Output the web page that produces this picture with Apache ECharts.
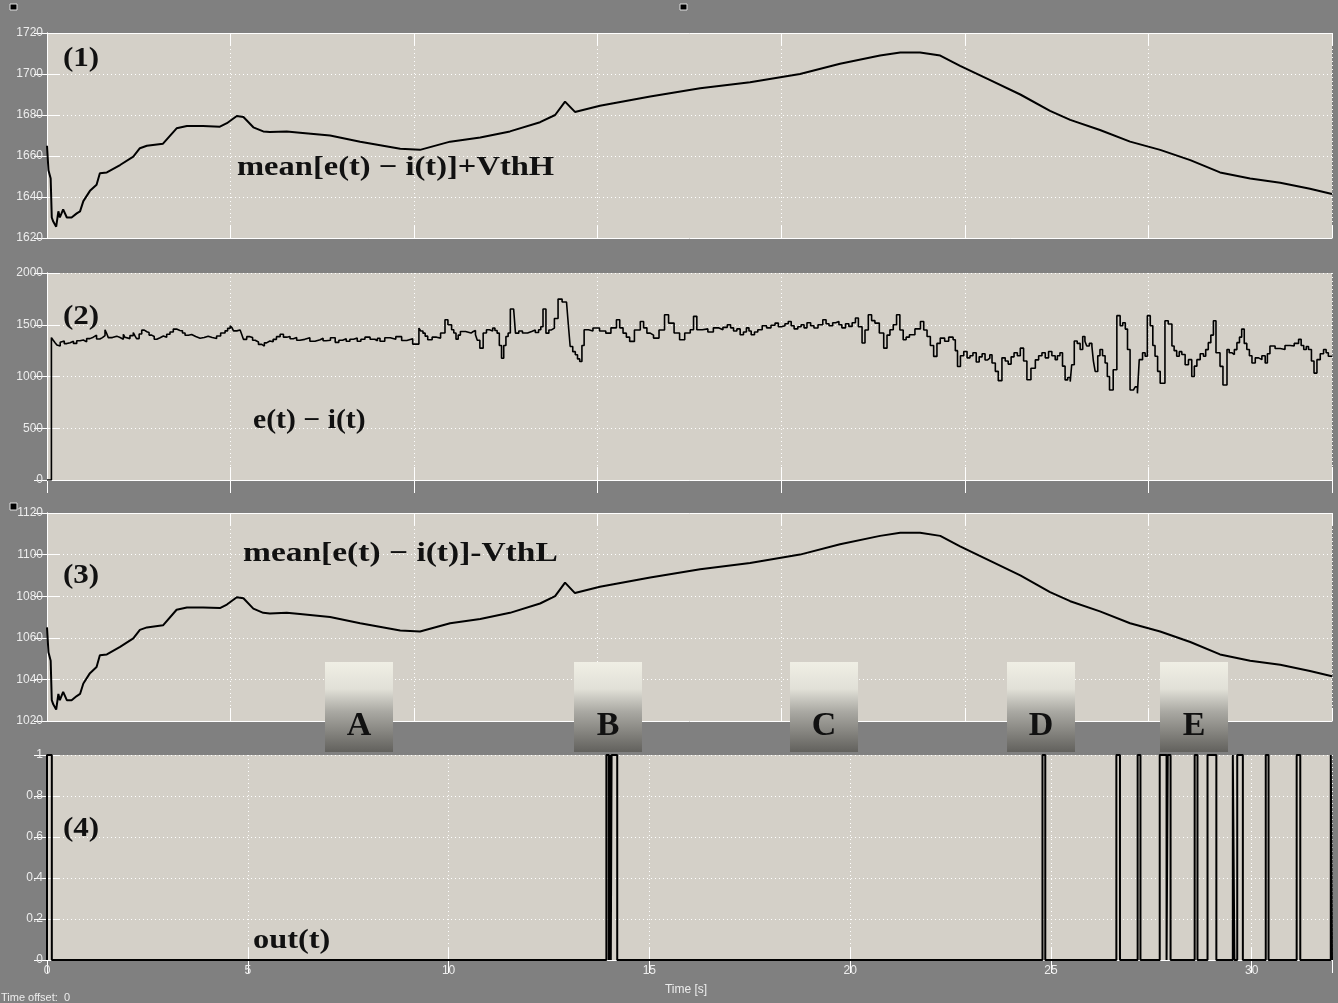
<!DOCTYPE html>
<html>
<head>
<meta charset="utf-8">
<script src="https://cdn.jsdelivr.net/npm/echarts@6/dist/echarts.min.js"></script>
<style>
  html, body { margin: 0; padding: 0; background: #808080; }
  #chart { width: 1338px; height: 1003px; }
</style>
</head>
<body>
<div id="chart"></div>
<script>
// ---- data -------------------------------------------------------------
// running mean of e(t) - i(t): [time, value]
const meanDiff = [
  [0,1365],[0.04,1353],[0.10,1349],[0.13,1330],[0.17,1328],[0.25,1325.5],[0.31,1333],[0.35,1330],
  [0.44,1334],[0.54,1330],[0.67,1330],[0.81,1332],[0.90,1333],[0.99,1338],[1.17,1343],[1.35,1346],
  [1.44,1351.6],[1.63,1352],[1.99,1355.6],[2.35,1359.7],[2.53,1363.8],[2.72,1365],[3.16,1366],
  [3.53,1373.5],[3.81,1374.6],[4.25,1374.6],[4.71,1374.3],[4.90,1376],[5.17,1379.5],[5.35,1379],
  [5.62,1374],[5.89,1372],[6.07,1371.7],[6.53,1372],[6.89,1371.4],[7.71,1370],[8.53,1367],
  [9.62,1363.5],[10.16,1363],[10.98,1367],[11.80,1369],[12.61,1372],[13.43,1376.5],[13.84,1380],
  [14.11,1386.5],[14.38,1381.5],[15.06,1384.5],[16.43,1389],[17.79,1393],[19.15,1396],[20.51,1400],
  [21.60,1405],[22.69,1409],[23.24,1410.5],[23.78,1410.5],[24.33,1409],[24.87,1404],[25.69,1397],
  [26.51,1390],[27.32,1382],[27.87,1377.6],[28.68,1372.7],[29.50,1367],[30.32,1363],[31.14,1358],
  [31.95,1352],[32.77,1349],[33.59,1347],[34.40,1344],[35.0,1341.5]
];
const VthH = 300;   // upper threshold offset
const VthL = 300;   // lower threshold offset

// e(t) - i(t): [time, value]
const eiDiff = [
  [0,0],[0.12,1376],[0.17,1350],[0.22,1327],[0.27,1305],[0.31,1294],[0.36,1330],[0.40,1343],[0.47,1318],
  [0.54,1327],[0.63,1340],[0.72,1320],[0.81,1345],[0.90,1353],[0.99,1335],[1.08,1366],[1.17,1380],
  [1.26,1399],[1.35,1362],[1.44,1376],[1.51,1395],[1.58,1451],[1.62,1420],[1.67,1376],[1.78,1390],
  [1.90,1376],[1.99,1360],[2.08,1408],[2.12,1380],[2.17,1366],[2.26,1395],[2.35,1425],[2.40,1390],
  [2.44,1366],[2.51,1410],[2.58,1448],[2.65,1432],[2.72,1425],[2.78,1400],[2.85,1386],[2.92,1360],
  [2.99,1343],[3.04,1375],[3.08,1392],[3.17,1380],[3.26,1408],[3.35,1430],[3.44,1458],[3.53,1445],
  [3.62,1441],[3.69,1420],[3.76,1399],[3.85,1405],[3.94,1386],[4.05,1370],[4.17,1376],[4.28,1390],
  [4.39,1376],[4.50,1368],[4.62,1392],[4.73,1420],[4.85,1441],[4.92,1465],[4.99,1490],[5.04,1470],
  [5.08,1441],[5.17,1450],[5.26,1458],[5.30,1410],[5.35,1359],[5.44,1385],[5.53,1376],[5.60,1350],
  [5.67,1333],[5.76,1310],[5.85,1294],[5.92,1325],[5.98,1343],[6.07,1335],[6.16,1359],[6.25,1385],
  [6.35,1408],[6.44,1380],[6.53,1386],[6.62,1365],[6.71,1376],[6.80,1350],[6.89,1359],[7.02,1375],
  [7.16,1340],[7.30,1355],[7.44,1370],[7.52,1345],[7.60,1350],[7.72,1375],[7.85,1330],[7.95,1350],
  [8.05,1365],[8.15,1340],[8.25,1360],[8.35,1372],[8.45,1340],[8.55,1360],[8.66,1380],[8.80,1360],
  [8.93,1345],[9.00,1370],[9.07,1340],[9.20,1375],[9.35,1360],[9.50,1385],[9.66,1348],[9.80,1365],
  [9.96,1313],[10.13,1468],[10.18,1440],[10.24,1419],[10.30,1390],[10.37,1355],[10.49,1380],
  [10.61,1371],[10.72,1420],[10.84,1548],[10.92,1500],[11.02,1452],[11.08,1420],[11.14,1361],
  [11.20,1400],[11.26,1435],[11.40,1420],[11.55,1435],[11.61,1445],[11.67,1403],[11.72,1350],
  [11.79,1274],[11.88,1420],[11.97,1452],[12.05,1440],[12.14,1468],[12.20,1445],[12.26,1419],
  [12.32,1300],[12.38,1177],[12.44,1300],[12.50,1387],[12.56,1420],[12.62,1652],[12.71,1645],
  [12.76,1419],[12.85,1440],[12.95,1420],[13.09,1435],[13.20,1450],[13.30,1425],[13.39,1452],
  [13.45,1480],[13.51,1652],[13.59,1419],[13.67,1450],[13.74,1468],[13.82,1560],[13.92,1748],
  [14.03,1720],[14.15,1710],[14.20,1500],[14.25,1290],[14.32,1240],[14.39,1210],[14.45,1170],
  [14.51,1145],[14.57,1300],[14.63,1452],[14.75,1440],[14.87,1468],[15.05,1440],[15.22,1419],
  [15.36,1470],[15.51,1548],[15.60,1470],[15.69,1419],[15.78,1380],[15.87,1339],[16.0,1450],
  [16.16,1532],[16.25,1470],[16.34,1419],[16.43,1400],[16.52,1371],[16.67,1450],[16.82,1597],
  [16.93,1516],[17.08,1420],[17.23,1355],[17.37,1420],[17.52,1452],[17.61,1581],[17.70,1452],
  [17.85,1460],[18.0,1430],[18.15,1470],[18.29,1452],[18.41,1475],[18.53,1500],[18.62,1470],
  [18.70,1440],[18.79,1460],[18.88,1403],[18.97,1430],[19.05,1470],[19.12,1440],[19.18,1403],
  [19.27,1430],[19.36,1452],[19.48,1490],[19.60,1470],[19.72,1495],[19.83,1516],[19.92,1480],
  [20.0,1490],[20.10,1510],[20.19,1532],[20.27,1490],[20.35,1460],[20.45,1480],[20.54,1500],
  [20.62,1470],[20.70,1520],[20.80,1490],[20.89,1468],[21.0,1500],[21.13,1548],[21.22,1510],
  [21.30,1490],[21.40,1520],[21.48,1532],[21.57,1500],[21.65,1470],[21.75,1510],[21.84,1484],
  [21.93,1520],[22.02,1565],[22.10,1480],[22.20,1323],[22.28,1450],[22.37,1597],[22.46,1540],
  [22.55,1516],[22.67,1420],[22.79,1274],[22.88,1400],[22.96,1452],[23.05,1500],[23.14,1597],
  [23.23,1450],[23.32,1355],[23.40,1380],[23.49,1403],[23.64,1460],[23.79,1532],[23.88,1450],
  [23.97,1387],[24.06,1300],[24.15,1194],[24.24,1320],[24.33,1371],[24.45,1340],[24.56,1380],
  [24.68,1355],[24.74,1250],[24.80,1097],[24.88,1200],[24.97,1242],[25.06,1180],[25.14,1200],
  [25.22,1230],[25.31,1140],[25.39,1190],[25.47,1220],[25.55,1160],[25.62,1177],[25.68,1210],
  [25.74,1130],[25.83,1050],[25.91,960],[26.01,1180],[26.10,1150],[26.18,1120],[26.26,1190],
  [26.34,1230],[26.43,1200],[26.51,1274],[26.60,1150],[26.69,968],[26.80,1080],[26.92,1161],
  [27.01,1200],[27.10,1230],[27.19,1180],[27.28,1242],[27.37,1200],[27.46,1163],[27.52,1200],
  [27.59,1229],[27.66,1100],[27.73,967],[27.80,990],[27.87,951],[27.91,1114],[27.98,1343],
  [28.06,1320],[28.14,1261],[28.21,1386],[28.27,1340],[28.32,1294],[28.39,1320],[28.46,1294],
  [28.50,1150],[28.55,1049],[28.62,1200],[28.68,1261],[28.75,1200],[28.82,1131],[28.88,1000],
  [28.94,869],[29.04,1065],[29.14,1588],[29.23,1490],[29.30,1520],[29.37,1458],[29.43,1261],
  [29.50,869],[29.59,853],[29.64,900],[29.70,837],[29.75,1163],[29.84,1230],[29.91,1196],
  [29.97,1588],[30.05,1490],[30.12,1300],[30.18,1196],[30.25,1050],[30.32,935],[30.45,1539],
  [30.54,1507],[30.64,1294],[30.70,1250],[30.77,1196],[30.84,1240],[30.91,1212],[31.00,1114],
  [31.09,1163],[31.18,1000],[31.25,1100],[31.32,1163],[31.41,1220],[31.50,1196],[31.56,1260],
  [31.63,1327],[31.70,1400],[31.77,1539],[31.84,1229],[31.95,1098],[32.03,918],[32.14,1261],
  [32.20,1230],[32.27,1212],[32.34,1260],[32.41,1327],[32.48,1380],[32.54,1458],[32.61,1320],
  [32.68,1261],[32.75,1200],[32.82,1131],[32.91,1180],[33.00,1163],[33.09,1200],[33.18,1131],
  [33.24,1220],[33.31,1294],[33.45,1270],[33.59,1261],[33.72,1300],[33.86,1294],[33.97,1320],
  [34.09,1359],[34.16,1300],[34.23,1261],[34.30,1290],[34.36,1261],[34.44,1150],[34.51,1033],
  [34.59,1163],[34.68,1220],[34.77,1261],[34.84,1230],[34.90,1196],[35.0,1190]
];

// intervals [start, end] where out(t) = 1
const outPulses = [
  [0,0.12],[13.93,13.99],[14.01,14.04],[14.06,14.20],[24.79,24.86],[26.63,26.72],[27.16,27.23],
  [27.71,27.88],[27.91,27.98],[28.58,28.65],[28.90,29.12],[29.53,29.57],[29.64,29.78],
  [30.35,30.42],[31.12,31.21],[31.97,32.0]
];

// marked intervals on the time line
const markLetters = ['A', 'B', 'C', 'D', 'E'];

// ---- derived series ----------------------------------------------------
const upperTrace = meanDiff.map(([t, v]) => [t, v + VthH]);
const lowerTrace = meanDiff.map(([t, v]) => [t, v - VthL]);
const outTrace = [];
outPulses.forEach(([a, b]) => { outTrace.push([a, 0], [a, 1], [b, 1], [b, 0]); });
if (outTrace[outTrace.length - 1][0] < 32) outTrace.push([32, 0]);

// ---- layout -------------------------------------------------------------
const panels = [
  { top: 33,  height: 205, yMin: 1620, yMax: 1720, yStep: 20,  xMax: 35 },
  { top: 273, height: 207, yMin: 0,    yMax: 2000, yStep: 500, xMax: 35 },
  { top: 513, height: 208, yMin: 1020, yMax: 1120, yStep: 20,  xMax: 35 },
  { top: 755, height: 205, yMin: 0,    yMax: 1,    yStep: 0.2, xMax: 32 }
];
const PLOT_LEFT = 47, PLOT_W = 1285;
const labelFont = { color: '#ececec', fontSize: 12, fontFamily: 'Liberation Sans' };
const tickStyle = { show: true, inside: true, length: 13, lineStyle: { color: '#ffffff', width: 1 } };
const edgeLine = { show: true, lineStyle: { color: '#ffffff', width: 1 } };
const dotted = { show: true, lineStyle: { color: '#ffffff', width: 1, type: [1, 3] } };

const grid = [], xAxis = [], yAxis = [];
panels.forEach((p, i) => {
  grid.push({ left: PLOT_LEFT, top: p.top, width: PLOT_W, height: p.height,
              show: true, backgroundColor: '#d4d0c8', borderWidth: 0 });
  xAxis.push({ gridIndex: i, type: 'value', min: 0, max: p.xMax, interval: 5, position: 'bottom',
    axisLine: edgeLine, axisTick: tickStyle, splitLine: dotted,
    axisLabel: Object.assign({ show: i === 3, margin: 5, showMaxLabel: false }, labelFont) });
  xAxis.push({ gridIndex: i, type: 'value', min: 0, max: p.xMax, interval: 5, position: 'top',
    axisLine: edgeLine, axisTick: tickStyle, splitLine: { show: false }, axisLabel: { show: false } });
  yAxis.push({ gridIndex: i, type: 'value', min: p.yMin, max: p.yMax, interval: p.yStep, position: 'left',
    axisLine: edgeLine, axisTick: tickStyle, splitLine: dotted,
    axisLabel: Object.assign({ margin: 4,
      formatter: v => (p.yStep < 1 && v !== 0 && v !== 1) ? v.toFixed(1) : String(v) }, labelFont) });
  yAxis.push({ gridIndex: i, type: 'value', min: p.yMin, max: p.yMax, interval: p.yStep, position: 'right',
    axisLine: edgeLine, axisTick: tickStyle, splitLine: { show: false }, axisLabel: { show: false } });
});

function trace(data, i, extra) {
  return Object.assign({ type: 'line', data, xAxisIndex: 2 * i, yAxisIndex: 2 * i,
    symbol: 'none', silent: true, lineStyle: { color: '#000000', width: 2 } }, extra || {});
}

// ---- annotations --------------------------------------------------------
const serif = 'bold 27px "Liberation Serif", "Times New Roman", serif';
function note(text, x, y, sx) {
  return { type: 'text', x, y, scaleX: sx, z: 50,
    style: { text, font: serif, fill: '#111111', align: 'left', verticalAlign: 'middle' } };
}
const boxLefts = [325, 574, 790, 1007, 1160];
const graphic = [
  note('(1)', 63, 59, 1.15),
  note('mean[e(t) \u2212 i(t)]+VthH', 237, 168, 1.205),
  note('(2)', 63, 317, 1.15),
  note('e(t) \u2212 i(t)', 253, 421, 1.1),
  note('(3)', 63, 576, 1.15),
  note('mean[e(t) \u2212 i(t)]-VthL', 243, 554, 1.24),
  note('(4)', 63, 829, 1.15),
  note('out(t)', 253, 941, 1.2),
  { type: 'text', x: 686, y: 990, z: 50,
    style: { text: 'Time [s]', font: '12px "Liberation Sans"', fill: '#ececec', align: 'center', verticalAlign: 'middle' } },
  { type: 'text', x: 1, y: 998, z: 50,
    style: { text: 'Time offset:  0', font: '11px "Liberation Sans"', fill: '#ececec', align: 'left', verticalAlign: 'middle' } },
  { type: 'rect', shape: { x: 10, y: 4, width: 7, height: 6 }, z: 50, style: { fill: '#000', stroke: '#e0e0e0', lineWidth: 1 } },
  { type: 'rect', shape: { x: 680, y: 4, width: 7, height: 6 }, z: 50, style: { fill: '#000', stroke: '#e0e0e0', lineWidth: 1 } },
  { type: 'rect', shape: { x: 10, y: 503, width: 7, height: 7 }, z: 50, style: { fill: '#000', stroke: '#e0e0e0', lineWidth: 1 } }
];
markLetters.forEach((letter, k) => {
  const x0 = boxLefts[k];
  graphic.push({ type: 'rect', z: 60, shape: { x: x0, y: 662, width: 68, height: 90 },
    style: { fill: { type: 'linear', x: 0, y: 0, x2: 0, y2: 1, colorStops: [
      { offset: 0, color: '#f0efe5' }, { offset: 0.3, color: '#e1e0d7' },
      { offset: 0.55, color: '#aaa9a3' }, { offset: 1, color: '#62615d' }] } } });
  graphic.push({ type: 'text', z: 61, x: x0 + 34, y: 726,
    style: { text: letter, font: 'bold 34px "Liberation Serif", serif', fill: '#111111',
             align: 'center', verticalAlign: 'middle' } });
});

const chart = echarts.init(document.getElementById('chart'), null, { renderer: 'canvas' });
chart.setOption({
  animation: false,
  backgroundColor: '#808080',
  grid, xAxis, yAxis,
  series: [
    trace(upperTrace, 0),
    trace(eiDiff, 1, { step: 'end', lineStyle: { color: '#000000', width: 1.6 } }),
    trace(lowerTrace, 2),
    trace(outTrace, 3, { clip: false })
  ],
  graphic
});
</script>
</body>
</html>
